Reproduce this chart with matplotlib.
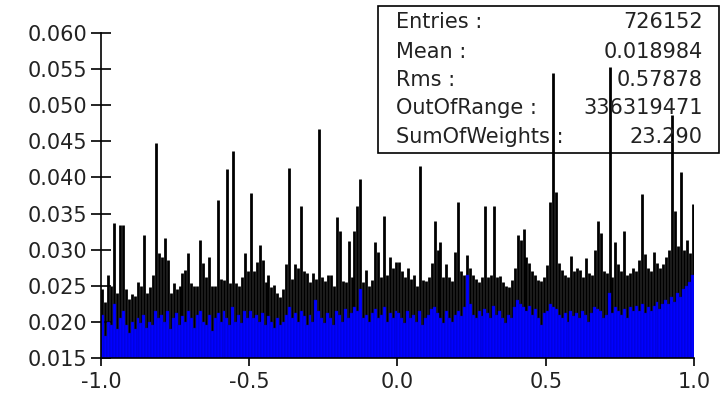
import numpy as np
import matplotlib
matplotlib.use("Agg")
import matplotlib.pyplot as plt
from matplotlib.patches import Rectangle

# 200 bins over [-1, 1]
x_low, x_high = -1.0, 1.0
n_bins = 200

# bin contents (blue bars)
content = [
    0.0210, 0.0180, 0.0200, 0.0195, 0.0225, 0.0190, 0.0205, 0.0215, 0.0195, 0.0185,
    0.0200, 0.0190, 0.0205, 0.0198, 0.0210, 0.0192, 0.0200, 0.0195, 0.0215, 0.0205,
    0.0210, 0.0200, 0.0215, 0.0190, 0.0205, 0.0212, 0.0195, 0.0208, 0.0200, 0.0215,
    0.0205, 0.0192, 0.0210, 0.0215, 0.0200, 0.0195, 0.0210, 0.0188, 0.0205, 0.0212,
    0.0200, 0.0215, 0.0205, 0.0195, 0.0220, 0.0200, 0.0210, 0.0198, 0.0215, 0.0205,
    0.0215, 0.0205, 0.0210, 0.0200, 0.0212, 0.0195, 0.0208, 0.0200, 0.0192, 0.0205,
    0.0195, 0.0200, 0.0210, 0.0220, 0.0205, 0.0212, 0.0200, 0.0215, 0.0208, 0.0195,
    0.0210, 0.0200, 0.0230, 0.0215, 0.0205, 0.0198, 0.0212, 0.0205, 0.0195, 0.0215,
    0.0210, 0.0200, 0.0218, 0.0205, 0.0212, 0.0220, 0.0215, 0.0245, 0.0205, 0.0210,
    0.0200, 0.0212, 0.0218, 0.0205, 0.0210, 0.0220, 0.0200, 0.0212, 0.0205, 0.0215,
    0.0212, 0.0205, 0.0198, 0.0215, 0.0205, 0.0210, 0.0200, 0.0215, 0.0195, 0.0205,
    0.0210, 0.0218, 0.0220, 0.0212, 0.0205, 0.0198, 0.0215, 0.0205, 0.0200, 0.0210,
    0.0215, 0.0208, 0.0220, 0.0265, 0.0225, 0.0210, 0.0205, 0.0215, 0.0208, 0.0218,
    0.0212, 0.0205, 0.0222, 0.0210, 0.0215, 0.0205, 0.0198, 0.0210, 0.0205, 0.0220,
    0.0230, 0.0225, 0.0220, 0.0215, 0.0222, 0.0210, 0.0218, 0.0205, 0.0195, 0.0212,
    0.0215, 0.0225, 0.0220, 0.0218, 0.0210, 0.0205, 0.0212, 0.0200, 0.0215, 0.0208,
    0.0212, 0.0205, 0.0215, 0.0210, 0.0200, 0.0212, 0.0220, 0.0218, 0.0215, 0.0205,
    0.0210, 0.0240, 0.0212, 0.0220, 0.0215, 0.0210, 0.0218, 0.0205, 0.0220, 0.0215,
    0.0222, 0.0215, 0.0225, 0.0212, 0.0220, 0.0215, 0.0222, 0.0228, 0.0218, 0.0225,
    0.0230, 0.0225, 0.0235, 0.0228, 0.0240, 0.0235, 0.0245, 0.0250, 0.0255, 0.0265,
]

# top of the error bar for each bin
err_top = [
    0.0245, 0.0228, 0.0265, 0.0250, 0.0337, 0.0240, 0.0334, 0.0334, 0.0245, 0.0232,
    0.0238, 0.0236, 0.0255, 0.0250, 0.0320, 0.0240, 0.0248, 0.0265, 0.0448, 0.0295,
    0.0290, 0.0316, 0.0286, 0.0240, 0.0254, 0.0245, 0.0250, 0.0268, 0.0272, 0.0295,
    0.0254, 0.0250, 0.0250, 0.0313, 0.0282, 0.0262, 0.0290, 0.0250, 0.0250, 0.0369,
    0.0260, 0.0258, 0.0412, 0.0254, 0.0436, 0.0254, 0.0250, 0.0262, 0.0295, 0.0270,
    0.0379, 0.0270, 0.0283, 0.0307, 0.0285, 0.0255, 0.0265, 0.0248, 0.0251, 0.0240,
    0.0235, 0.0245, 0.0280, 0.0413, 0.0260, 0.0280, 0.0275, 0.0361, 0.0270, 0.0268,
    0.0255, 0.0268, 0.0260, 0.0467, 0.0262, 0.0256, 0.0265, 0.0265, 0.0250, 0.0345,
    0.0326, 0.0257, 0.0255, 0.0312, 0.0262, 0.0326, 0.0361, 0.0398, 0.0255, 0.0272,
    0.0250, 0.0258, 0.0310, 0.0297, 0.0262, 0.0347, 0.0265, 0.0290, 0.0275, 0.0283,
    0.0283, 0.0270, 0.0262, 0.0275, 0.0260, 0.0265, 0.0250, 0.0416, 0.0258, 0.0256,
    0.0262, 0.0281, 0.0339, 0.0300, 0.0311, 0.0262, 0.0280, 0.0262, 0.0256, 0.0297,
    0.0366, 0.0270, 0.0265, 0.0292, 0.0275, 0.0265, 0.0259, 0.0255, 0.0262, 0.0360,
    0.0262, 0.0265, 0.0360, 0.0262, 0.0263, 0.0255, 0.0250, 0.0248, 0.0258, 0.0275,
    0.0320, 0.0314, 0.0328, 0.0290, 0.0282, 0.0270, 0.0265, 0.0258, 0.0256, 0.0262,
    0.0279, 0.0366, 0.0544, 0.0380, 0.0281, 0.0272, 0.0265, 0.0262, 0.0291, 0.0270,
    0.0275, 0.0272, 0.0262, 0.0288, 0.0268, 0.0265, 0.0300, 0.0339, 0.0323, 0.0270,
    0.0268, 0.0553, 0.0262, 0.0310, 0.0280, 0.0270, 0.0326, 0.0265, 0.0268, 0.0275,
    0.0270, 0.0285, 0.0377, 0.0294, 0.0275, 0.0270, 0.0297, 0.0282, 0.0275, 0.0280,
    0.0290, 0.0300, 0.0487, 0.0353, 0.0305, 0.0408, 0.0300, 0.0314, 0.0295, 0.0363,
]

stat_labels = ["Entries :", "Mean :", "Rms :", "OutOfRange :", "SumOfWeights :"]
stat_values = ["726152", "0.018984", "0.57878", "336319471", "23.290"]

y_ticks = [0.015, 0.020, 0.025, 0.030, 0.035, 0.040, 0.045, 0.050, 0.055, 0.060]
x_ticks = [-1.0, -0.5, 0.0, 0.5, 1.0]

content = np.array(content)
errors = np.array(err_top) - content
edges = np.linspace(x_low, x_high, n_bins + 1)
centers = 0.5 * (edges[:-1] + edges[1:])
width = edges[1] - edges[0]

fig = plt.figure(figsize=(7.26, 3.99), dpi=100)
ax = fig.add_axes([0.139, 0.1028, 0.817, 0.8145])

ax.errorbar(centers, content, yerr=errors, fmt="none", ecolor="black",
            elinewidth=2.0, capsize=0, zorder=1)
ax.bar(centers, content, width=width, color="#0000ff", edgecolor="#0000b4",
       linewidth=0.3, zorder=2)

ax.set_xlim(x_low, x_high)
ax.set_ylim(0.015, 0.060)
ax.set_xticks(x_ticks)
ax.set_xticklabels(["-1.0", "-0.5", "0.0", "0.5", "1.0"])
ax.set_yticks(y_ticks)
ax.set_yticklabels([f"{v:.3f}" for v in y_ticks])
ax.tick_params(axis="y", direction="inout", length=15, width=1.2, labelsize=15, pad=2)
ax.tick_params(axis="x", direction="out", length=6, width=1.2, labelsize=15, pad=4)
for lab in ax.get_xticklabels() + ax.get_yticklabels():
    lab.set_color("#222222")

ax.spines["top"].set_visible(False)
ax.spines["right"].set_visible(False)
ax.spines["left"].set_linewidth(1.2)
ax.spines["bottom"].set_linewidth(1.2)

# stats box (no fill, spikes show through)
box = Rectangle((0.5207, 0.617), 0.469, 0.369, transform=fig.transFigure,
                fill=False, edgecolor="black", linewidth=1.2, zorder=5)
fig.add_artist(box)
row_y = [0.944, 0.870, 0.799, 0.729, 0.657]
for lab, val, yy in zip(stat_labels, stat_values, row_y):
    fig.text(0.545, yy, lab, fontsize=15, color="#222222", va="center", ha="left")
    fig.text(0.968, yy, val, fontsize=15, color="#222222", va="center", ha="right")

fig.savefig("out.png", dpi=100)
